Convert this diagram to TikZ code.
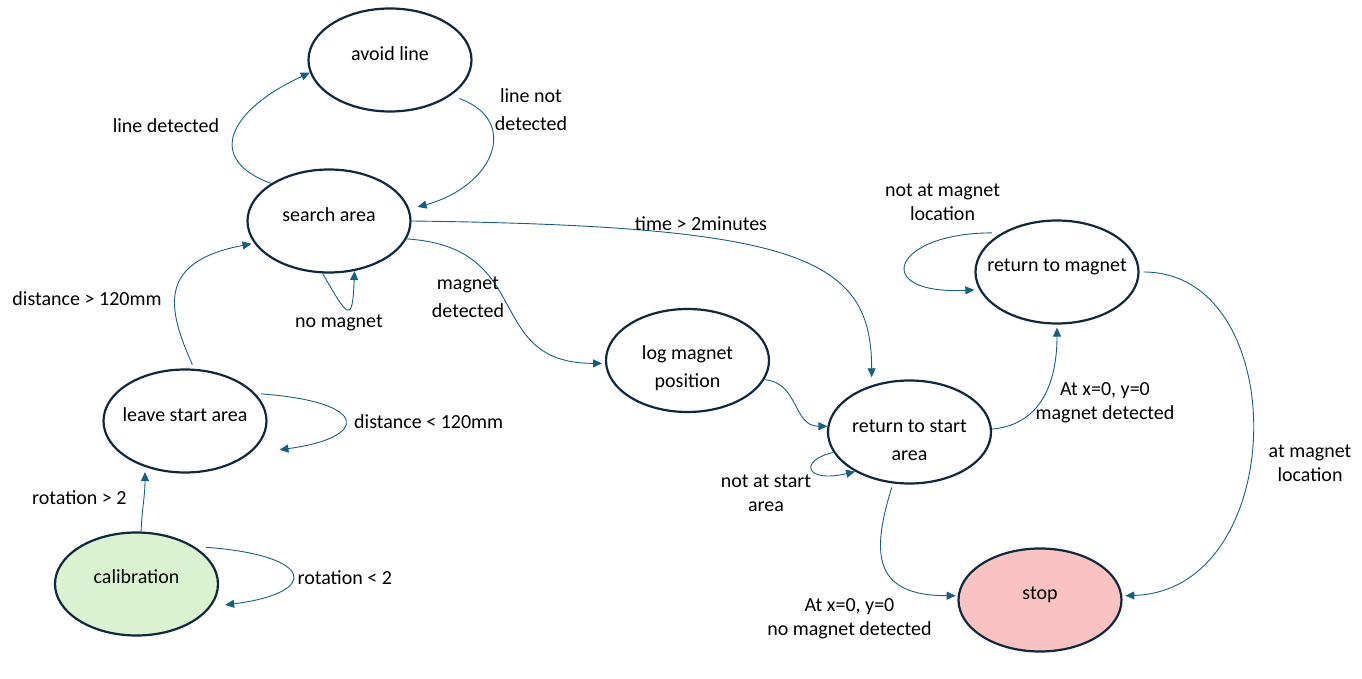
\documentclass[tikz,border=0pt]{standalone}
\usepackage{fontspec}
\setmainfont{Carlito}
\usetikzlibrary{shapes.geometric,arrows.meta}
\definecolor{rim}{HTML}{0E2841}
\definecolor{flow}{HTML}{156082}
\definecolor{calibfill}{HTML}{DAF2D0}
\definecolor{stopfill}{HTML}{FAC3C1}
\tikzset{
  state/.style={draw=rim,line width=2.2pt,ellipse,minimum width=163pt,minimum height=103pt,inner sep=0pt},
  stx/.style={font=\fontsize{20}{28}\selectfont,align=center,inner sep=0pt},
  lbl/.style={font=\fontsize{20}{24}\selectfont,align=center,inner sep=0pt},
  trans/.style={draw=flow,line width=0.9pt,-{Triangle[length=9pt,width=8pt]}}
}

\begin{document}
\begin{tikzpicture}[x=1pt,y=1pt]
  \useasboundingbox (0,0) rectangle (1362,678);
  \node[state,label={[stx,yshift=6pt]center:avoid line}] (avoid) at (390,618) {};
  \node[state,label={[stx,yshift=6pt]center:search area}] (search) at (329,457) {};
  \node[state,label={[stx,yshift=6pt]center:leave start area}] (leave) at (185,257) {};
  \node[state,fill=calibfill,label={[stx,yshift=7pt]center:calibration}] (calib) at (136.5,94) {};
  \node[state,label={[stx,yshift=-8pt]center:log magnet\\position}] (logpos) at (687.5,317.5) {};
  \node[state,label={[stx,yshift=-8pt]center:return to start\\area}] (retstart) at (909.5,246) {};
  \node[state,label={[stx,yshift=5pt]center:return to magnet}] (retmag) at (1057,406) {};
  \node[state,fill=stopfill,label={[stx,yshift=5pt]center:stop}] (stop) at (1040,78) {};

  \draw[trans] (search.147) .. controls +(-66,24) and +(-82,-38) .. (avoid.189);
  \draw[trans] ([shift={(7,-4)}]avoid.-29) .. controls +(61,-22) and +(77,21) .. ([xshift=9pt]search.10);
  \draw[trans] (search.-97) .. controls +(25,-43) and +(-2,-55) .. (search.-63);
  \draw[trans] (search.-13) .. controls +(130,-8) and +(-120,0) .. ([xshift=-3pt]logpos.182);
  \draw[trans] (search.east) .. controls +(388,-5) and +(0,120) .. ([yshift=8pt]retstart.129);
  \draw[trans] ([yshift=4pt]leave.82) .. controls +(-25,56) and +(-95,-18) .. ([xshift=-3pt]search.197);
  \draw[trans] ([xshift=5pt]leave.21) .. controls +(110,-8) and +(90,12) .. ([shift={(20,-6)}]leave.-17);
  \draw[trans] (calib.85) .. controls +(1,25) and +(0,-25) .. ([yshift=-5pt]leave.229);
  \draw[trans] ([shift={(6,3)}]calib.28) .. controls +(110,-8) and +(95,12) .. ([shift={(11,-3)}]calib.-13);
  \draw[trans] (logpos.-14) .. controls +(35,-3) and +(-35,0) .. (retstart.176);
  \draw[trans] (retstart.195) .. controls +(-35,-8) and +(-50,-12) .. (retstart.216);
  \draw[trans] (retstart.2) .. controls +(55,5) and +(0,-45) .. ([yshift=-3pt]retmag.south);
  \draw[trans] ([shift={(-5,3)}]retmag.149) .. controls +(-100,0) and +(-105,-5) .. ([xshift=-5pt]retmag.193);
  \draw[trans] ([xshift=4pt]retmag.east) .. controls +(150,0) and +(165,5) .. ([xshift=3pt]stop.3);
  \draw[trans] ([yshift=-4pt]retstart.251) .. controls +(-22,-70) and +(-80,0) .. ([xshift=-2pt]stop.177);

  \node[lbl] (tlinedet) at (166,552) {line detected};
  \node[stx] (tlinenot) at (531,568) {line not\\detected};
  \node[lbl] (tnomag) at (339,355) {no magnet};
  \node[stx] (tmagdet) at (468,381) {magnet\\detected};
  \node[lbl] (ttime) at (701,454) {time > 2minutes};
  \node[lbl] (tdistgt) at (87,379) {distance > 120mm};
  \node[lbl] (tdistlt) at (428.7,256.3) {distance < 120mm};
  \node[lbl] (trotgt) at (79.4,180) {rotation > 2};
  \node[lbl] (trotlt) at (344.8,100.7) {rotation < 2};
  \node[lbl] (tnotstart) at (766,184.3) {not at start\\area};
  \node[lbl] (tatmagdet) at (1105,275) {At x=0, y=0\\magnet detected};
  \node[lbl] (tnotmag) at (942.5,475.5) {not at magnet\\location};
  \node[lbl] (tatmag) at (1310,214.3) {at magnet\\location};
  \node[lbl] (tnomagdet) at (849.5,58.8) {At x=0, y=0\\no magnet detected};
\end{tikzpicture}
\end{document}
